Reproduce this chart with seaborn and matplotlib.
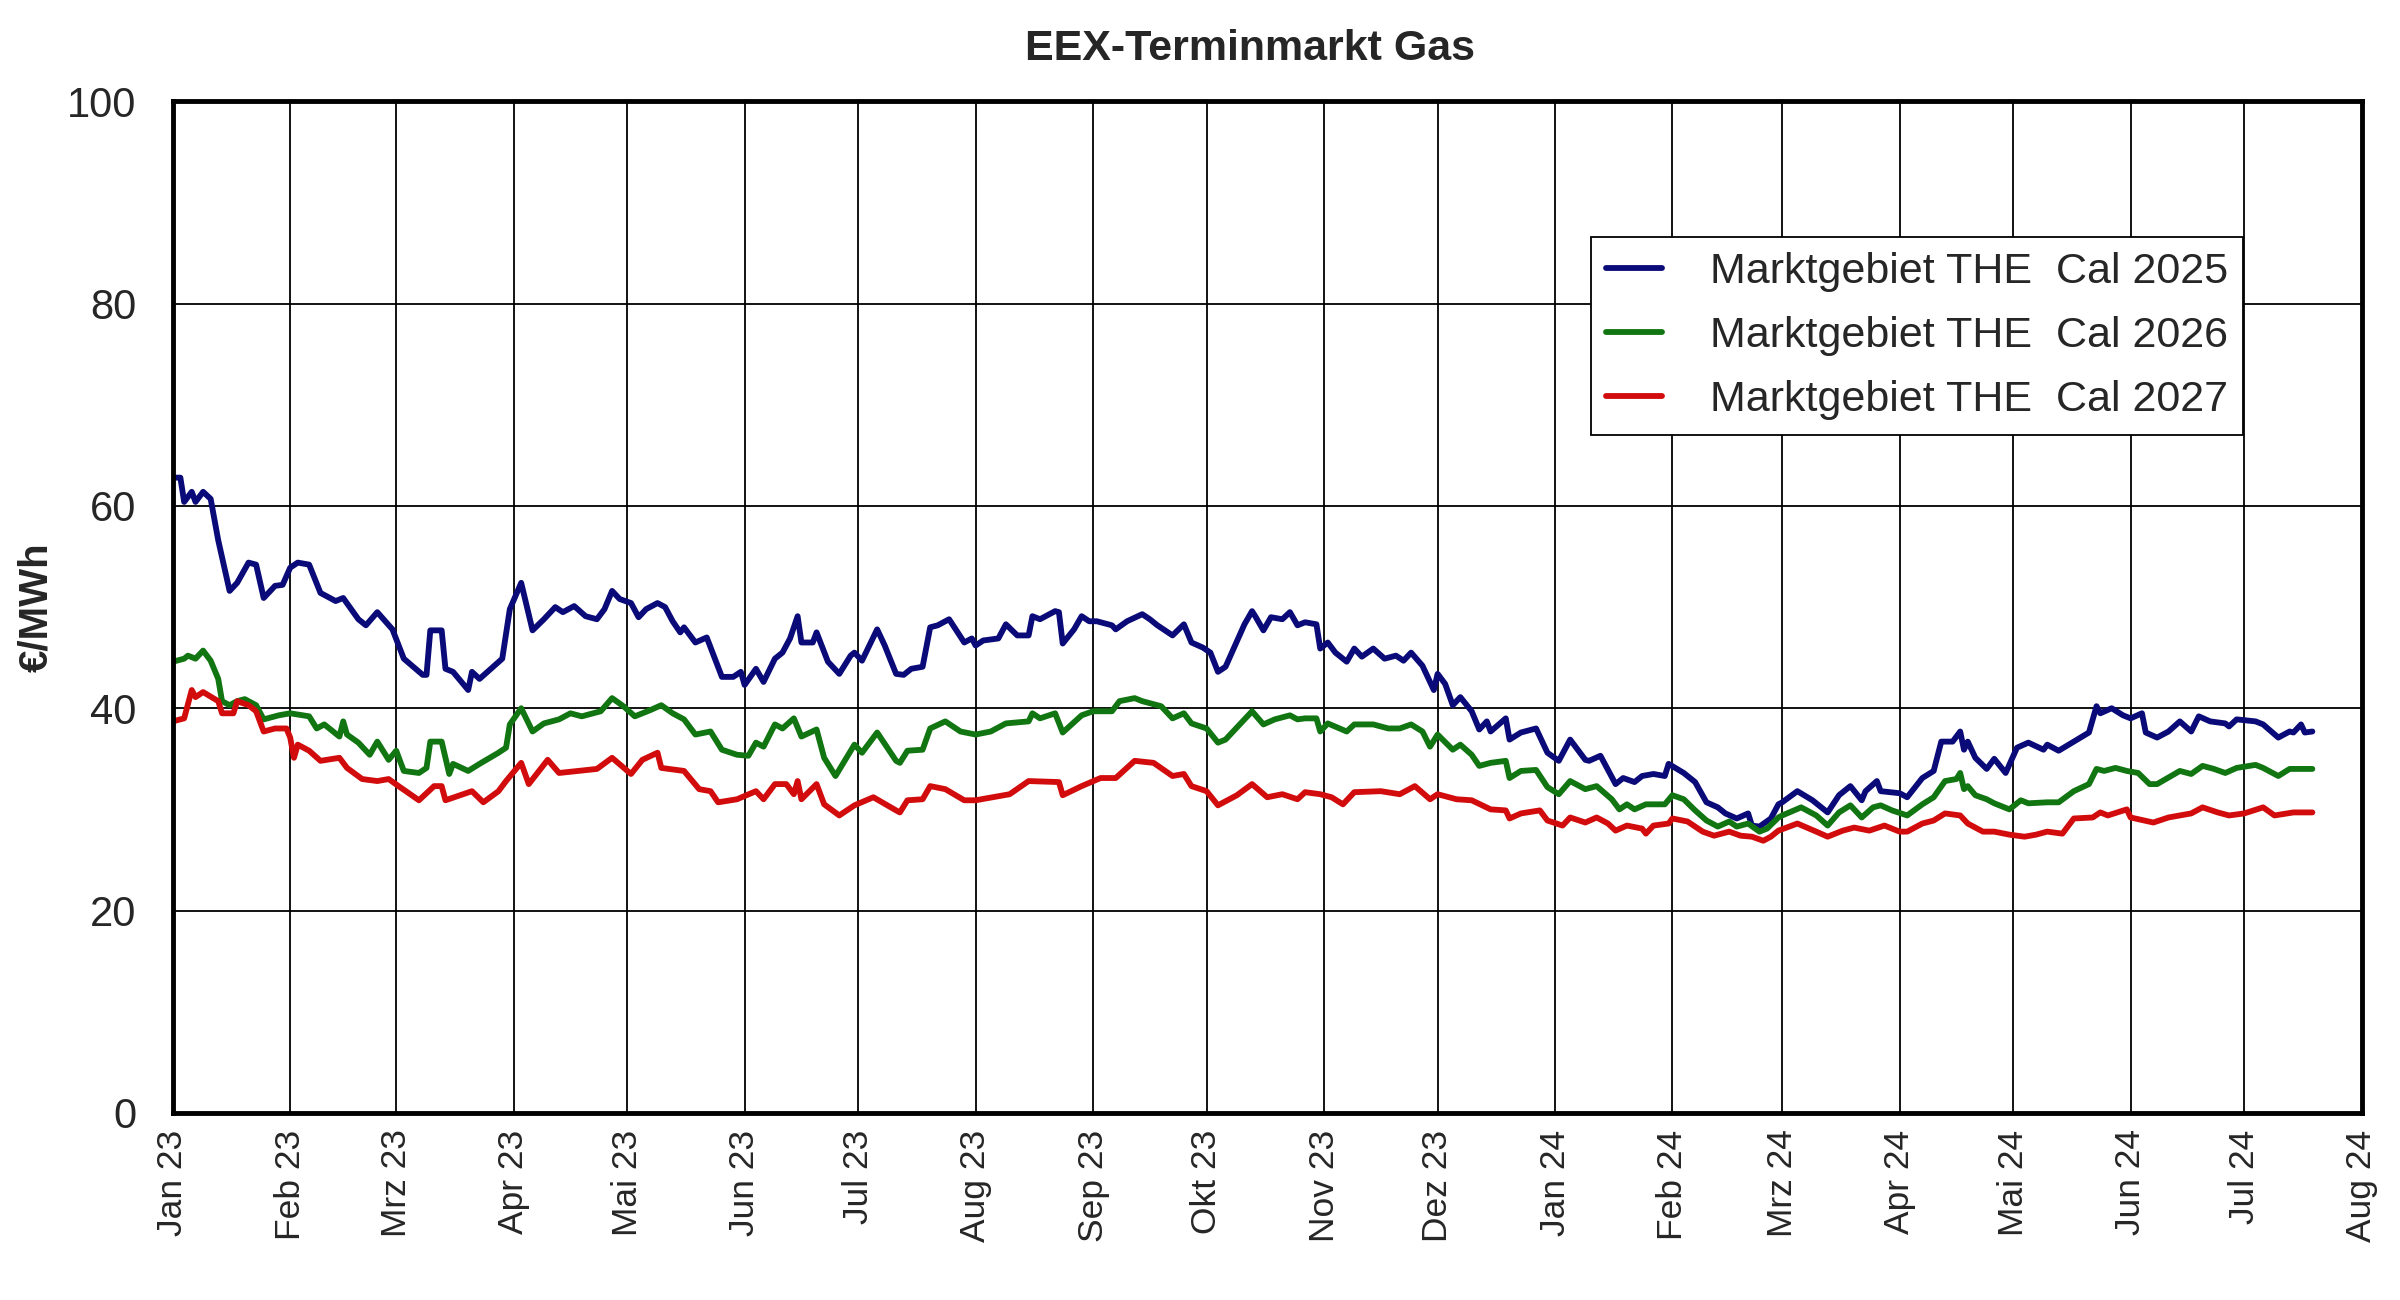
import numpy as np
import pandas as pd
import seaborn as sns
import matplotlib.pyplot as plt

# days since 2023-01-01 and price in EUR/MWh
cal25_day = [0, 2, 3, 5, 6, 8, 10, 12, 15, 17, 20, 22, 24, 27, 29, 31, 33, 36, 39, 43,
             45, 49, 51, 54, 58, 61, 66, 67, 68, 71, 72, 74, 78, 79, 81, 84, 87, 89, 92, 95,
             98, 101, 103, 106, 109, 112, 114, 116, 118, 121, 123, 125, 128, 130, 132, 134, 135, 138, 141, 145,
             148, 150, 151, 154, 156, 159, 161, 163, 165, 166, 169, 170, 173, 176, 179, 180, 182, 186, 188, 191,
             193, 195, 198, 200, 202, 205, 209, 211, 212, 214, 218, 220, 223, 226, 227, 229, 233, 234, 235, 238,
             240, 242, 244, 248, 249, 252, 256, 258, 260, 264, 267, 269, 272, 274, 276, 278, 283, 285, 286, 288,
             290, 293, 295, 297, 299, 302, 303, 305, 307, 310, 312, 314, 317, 320, 323, 325, 327, 330, 333, 334,
             336, 338, 340, 343, 345, 347, 348, 352, 353, 356, 360, 363, 366, 369, 373, 374, 377, 381, 383, 386,
             388, 391, 394, 395, 399, 402, 405, 408, 410, 413, 416, 417, 419, 422, 424, 425, 429, 433, 437, 440,
             443, 446, 447, 450, 451, 456, 458, 462, 465, 467, 470, 472, 473, 474, 476, 479, 481, 484, 487, 490,
             494, 495, 498, 502, 506, 508, 509, 512, 515, 517, 520, 521, 524, 527, 530, 533, 535, 538, 542, 543,
             545, 550, 552, 556, 559, 560, 562, 563, 565]
cal25_val = [62.8, 62.8, 60.4, 61.4, 60.4, 61.4, 60.7, 56.6, 51.6, 52.4, 54.4, 54.2, 50.9, 52.1, 52.2, 53.9, 54.4, 54.2, 51.4, 50.6,
             50.9, 48.8, 48.2, 49.5, 47.8, 44.9, 43.3, 43.3, 47.7, 47.7, 43.9, 43.6, 41.8, 43.6, 42.9, 43.9, 44.9, 49.8, 52.4, 47.7,
             48.8, 50.0, 49.5, 50.1, 49.1, 48.8, 49.8, 51.6, 50.8, 50.4, 49.0, 49.8, 50.4, 50.0, 48.6, 47.5, 48.0, 46.5, 47.0, 43.1,
             43.1, 43.6, 42.3, 43.9, 42.6, 44.9, 45.5, 46.9, 49.1, 46.5, 46.5, 47.5, 44.6, 43.4, 45.2, 45.5, 44.7, 47.8, 46.2, 43.4,
             43.3, 43.9, 44.1, 48.0, 48.2, 48.8, 46.5, 46.9, 46.2, 46.7, 46.9, 48.3, 47.2, 47.2, 49.1, 48.8, 49.6, 49.5, 46.4, 47.8,
             49.1, 48.6, 48.6, 48.2, 47.8, 48.6, 49.3, 48.8, 48.2, 47.2, 48.3, 46.5, 46.0, 45.5, 43.6, 44.1, 48.3, 49.6, 49.0, 47.7,
             49.0, 48.8, 49.5, 48.2, 48.5, 48.3, 45.9, 46.5, 45.5, 44.6, 45.9, 45.1, 45.9, 44.9, 45.2, 44.7, 45.5, 44.2, 41.8, 43.4,
             42.4, 40.3, 41.1, 39.7, 37.9, 38.7, 37.7, 39.0, 36.9, 37.6, 38.0, 35.6, 34.8, 36.9, 34.9, 34.8, 35.3, 32.5, 33.1, 32.7,
             33.3, 33.5, 33.3, 34.5, 33.6, 32.7, 30.7, 30.2, 29.6, 29.1, 29.6, 28.4, 28.3, 29.1, 30.5, 30.7, 31.8, 30.9, 29.7, 31.4,
             32.3, 30.9, 31.8, 32.8, 31.8, 31.6, 31.2, 33.1, 33.8, 36.7, 36.7, 37.7, 35.9, 36.7, 35.1, 34.0, 35.0, 33.6, 36.1, 36.6,
             35.9, 36.4, 35.8, 36.7, 37.6, 40.2, 39.5, 40.0, 39.3, 39.0, 39.5, 37.6, 37.1, 37.7, 38.7, 37.7, 39.2, 38.7, 38.5, 38.2,
             38.9, 38.7, 38.4, 37.1, 37.7, 37.6, 38.4, 37.6, 37.7]

cal26_day = [0, 3, 4, 6, 8, 10, 12, 13, 15, 17, 19, 22, 24, 28, 31, 36, 38, 40, 44, 45,
             46, 49, 52, 54, 57, 59, 61, 65, 67, 68, 71, 73, 74, 78, 81, 86, 88, 89, 92, 95,
             98, 102, 105, 108, 113, 116, 119, 122, 126, 129, 132, 135, 138, 142, 145, 149, 152, 154, 156, 159,
             161, 164, 166, 170, 172, 175, 180, 182, 186, 191, 192, 194, 198, 200, 204, 208, 212, 216, 220, 226,
             227, 229, 233, 235, 240, 243, 248, 250, 254, 256, 261, 264, 267, 269, 273, 276, 278, 285, 288, 291,
             295, 297, 299, 302, 303, 305, 310, 312, 317, 321, 324, 327, 330, 332, 334, 338, 340, 343, 345, 348,
             352, 353, 356, 360, 363, 366, 369, 373, 376, 380, 382, 384, 386, 389, 394, 396, 399, 402, 405, 408,
             411, 413, 416, 419, 421, 424, 425, 430, 434, 437, 440, 443, 446, 449, 451, 454, 458, 462, 465, 468,
             471, 472, 473, 474, 476, 479, 481, 485, 488, 490, 495, 498, 502, 506, 508, 510, 513, 516, 519, 522,
             524, 530, 533, 536, 539, 542, 545, 550, 552, 556, 559, 562, 565]
cal26_val = [44.6, 44.9, 45.2, 44.9, 45.7, 44.7, 42.9, 40.7, 40.3, 40.7, 40.9, 40.3, 38.9, 39.3, 39.5, 39.2, 38.0, 38.4, 37.2, 38.7,
             37.4, 36.6, 35.4, 36.7, 34.9, 35.8, 33.8, 33.6, 34.1, 36.7, 36.7, 33.5, 34.5, 33.8, 34.5, 35.6, 36.1, 38.4, 40.0, 37.7,
             38.5, 38.9, 39.5, 39.2, 39.7, 41.0, 40.2, 39.2, 39.8, 40.3, 39.5, 38.9, 37.4, 37.7, 35.9, 35.4, 35.3, 36.6, 36.2, 38.4,
             38.0, 39.0, 37.2, 37.9, 35.1, 33.3, 36.4, 35.6, 37.6, 34.8, 34.6, 35.8, 35.9, 38.0, 38.7, 37.7, 37.4, 37.7, 38.5, 38.7,
             39.5, 39.0, 39.5, 37.6, 39.3, 39.7, 39.7, 40.7, 41.0, 40.7, 40.2, 39.0, 39.5, 38.5, 38.0, 36.6, 36.9, 39.7, 38.4, 38.9,
             39.3, 38.9, 39.0, 39.0, 37.7, 38.5, 37.7, 38.4, 38.4, 38.0, 38.0, 38.4, 37.7, 36.2, 37.4, 35.9, 36.4, 35.4, 34.3, 34.6,
             34.8, 33.1, 33.8, 33.9, 32.2, 31.5, 32.8, 32.0, 32.3, 31.0, 30.0, 30.5, 30.0, 30.5, 30.5, 31.4, 31.0, 29.9, 28.9, 28.3,
             28.8, 28.3, 28.6, 27.8, 28.1, 29.2, 29.4, 30.2, 29.4, 28.4, 29.7, 30.4, 29.2, 30.2, 30.4, 29.9, 29.4, 30.5, 31.2, 32.8,
             33.0, 33.6, 32.0, 32.3, 31.4, 31.0, 30.6, 30.0, 30.9, 30.6, 30.7, 30.7, 31.8, 32.5, 34.0, 33.8, 34.1, 33.8, 33.6, 32.5,
             32.5, 33.8, 33.5, 34.3, 34.0, 33.6, 34.1, 34.4, 34.1, 33.3, 34.0, 34.0, 34.0]

cal27_day = [0, 3, 5, 6, 8, 12, 13, 16, 17, 20, 22, 24, 27, 30, 31, 32, 33, 36, 39, 44,
             46, 50, 54, 57, 60, 65, 69, 71, 72, 79, 82, 86, 88, 92, 94, 99, 102, 112, 116, 121,
             124, 128, 129, 135, 139, 142, 144, 149, 154, 156, 159, 162, 164, 165, 166, 170, 172, 176, 180, 185,
             191, 192, 194, 198, 200, 204, 209, 212, 221, 226, 234, 235, 240, 245, 249, 254, 259, 264, 267, 269,
             273, 276, 281, 285, 289, 293, 297, 299, 303, 306, 309, 312, 319, 324, 328, 332, 334, 339, 343, 348,
             352, 353, 356, 361, 363, 367, 369, 373, 376, 379, 381, 384, 388, 389, 391, 395, 396, 400, 404, 407,
             411, 414, 417, 420, 422, 424, 429, 434, 437, 441, 444, 448, 452, 456, 458, 462, 465, 468, 472, 474,
             478, 481, 485, 489, 492, 495, 499, 502, 507, 509, 511, 516, 517, 523, 527, 533, 536, 540, 543, 547,
             552, 555, 560, 565]
cal27_val = [38.7, 39.0, 41.8, 41.1, 41.6, 40.7, 39.5, 39.5, 40.7, 40.3, 39.7, 37.7, 38.0, 38.0, 37.1, 35.1, 36.4, 35.8, 34.8, 35.1,
             34.1, 33.0, 32.8, 33.0, 32.2, 30.9, 32.3, 32.3, 30.9, 31.8, 30.7, 31.8, 32.8, 34.6, 32.5, 34.9, 33.6, 34.0, 35.1, 33.5,
             34.9, 35.6, 34.1, 33.8, 32.0, 31.8, 30.7, 31.0, 31.8, 31.0, 32.5, 32.5, 31.5, 32.8, 31.0, 32.5, 30.5, 29.4, 30.4, 31.2,
             29.9, 29.7, 30.9, 31.0, 32.3, 32.0, 30.9, 30.9, 31.5, 32.8, 32.7, 31.4, 32.3, 33.1, 33.1, 34.8, 34.6, 33.3, 33.5, 32.3,
             31.8, 30.4, 31.4, 32.5, 31.2, 31.5, 31.0, 31.7, 31.5, 31.2, 30.5, 31.7, 31.8, 31.5, 32.3, 31.0, 31.5, 31.0, 30.9, 30.0,
             29.9, 29.1, 29.6, 29.9, 28.9, 28.4, 29.2, 28.7, 29.2, 28.6, 27.9, 28.4, 28.1, 27.6, 28.4, 28.6, 29.1, 28.8, 27.8, 27.4,
             27.8, 27.4, 27.3, 26.9, 27.3, 27.9, 28.6, 27.8, 27.3, 27.9, 28.2, 27.9, 28.4, 27.8, 27.8, 28.6, 28.9, 29.6, 29.4, 28.6,
             27.8, 27.8, 27.5, 27.3, 27.5, 27.8, 27.6, 29.1, 29.2, 29.7, 29.4, 30.0, 29.2, 28.7, 29.2, 29.6, 30.2, 29.7, 29.4, 29.6,
             30.2, 29.4, 29.7, 29.7]

series_names = ["Marktgebiet THE  Cal 2025", "Marktgebiet THE  Cal 2026", "Marktgebiet THE  Cal 2027"]
series_colors = ["#0a0a78", "#117511", "#d20c0c"]

month_labels = ["Jan 23", "Feb 23", "Mrz 23", "Apr 23", "Mai 23", "Jun 23", "Jul 23", "Aug 23",
                "Sep 23", "Okt 23", "Nov 23", "Dez 23", "Jan 24", "Feb 24", "Mrz 24", "Apr 24",
                "Mai 24", "Jun 24", "Jul 24", "Aug 24"]

sns.set_style("white")
plt.rcParams['font.family'] = ['Liberation Sans', 'DejaVu Sans']

start = pd.Timestamp("2023-01-01")
fig, ax = plt.subplots(figsize=(24, 13), dpi=100)
fig.subplots_adjust(left=0.072, right=0.984, top=0.922, bottom=0.144)

for days, vals, name, col in zip([cal25_day, cal26_day, cal27_day],
                                 [cal25_val, cal26_val, cal27_val],
                                 series_names, series_colors):
    df = pd.DataFrame({"date": start + pd.to_timedelta(days, unit="D"), "price": vals})
    sns.lineplot(data=df, x="date", y="price", ax=ax, color=col, linewidth=4.2,
                 label=name, estimator=None, zorder=3)

ticks = pd.date_range("2023-01-01", "2024-08-01", freq="MS")
ax.set_xticks(ticks)
ax.set_xticklabels(month_labels, rotation=90, fontsize=25.5)
ax.set_xlim(ticks[0], ticks[-1])
ax.set_ylim(0, 100)
ax.set_yticks(np.arange(0, 101, 20))
ax.tick_params(axis='y', labelsize=30, length=8, width=1.2, pad=18, color='black')
ax.tick_params(axis='x', length=8, width=1.2, pad=4, color='black')

ax.grid(True, color='black', linewidth=1.3)
for s in ax.spines.values():
    s.set_color('black')
    s.set_linewidth(3.5)
    s.set_zorder(4)

ax.set_xlabel("")
ax.set_ylabel("€/MWh", fontsize=29, fontweight='bold', labelpad=9)
ax.set_title("EEX-Terminmarkt Gas", fontsize=31, fontweight='bold', pad=30, x=0.492)

leg = ax.legend(loc="upper left", bbox_to_anchor=(0.648, 0.866), borderaxespad=0,
                fontsize=31, frameon=True, fancybox=False, framealpha=1,
                edgecolor='black', handlelength=1.3, handletextpad=1.1,
                labelspacing=0.56, borderpad=0.35)
leg.get_frame().set_linewidth(1.3)

plt.savefig("out.png")
